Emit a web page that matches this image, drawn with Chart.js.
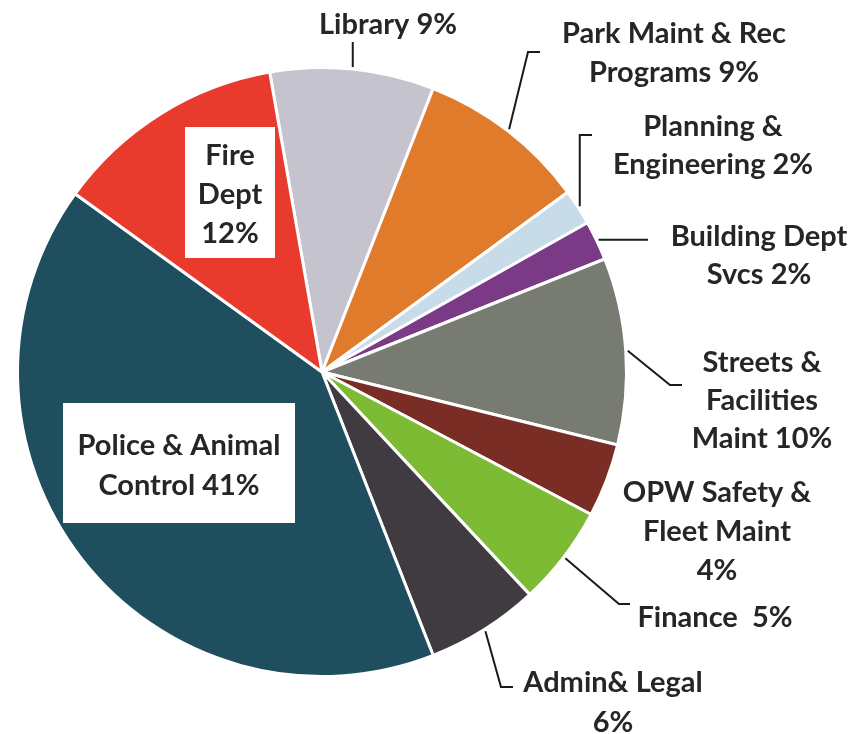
<!DOCTYPE html>
<html>
<head>
<meta charset="utf-8">
<script src="https://cdn.jsdelivr.net/npm/chart.js@4/dist/chart.umd.min.js"></script>
<style>
  html, body { margin: 0; padding: 0; background: #ffffff; }
  #wrap { width: 866px; height: 734px; }
</style>
</head>
<body>
<div id="wrap"><canvas id="c" width="866" height="734"></canvas></div>
<script>
// ---- data ----
const categories = [
  'Library', 'Park Maint & Rec Programs', 'Planning & Engineering', 'Building Dept Svcs',
  'Streets & Facilities Maint', 'OPW Safety & Fleet Maint', 'Finance', 'Admin& Legal',
  'Police & Animal Control', 'Fire Dept'
];
const shares = [8.7, 9.0, 1.9, 2.1, 9.9, 3.9, 5.3, 6.0, 40.9, 12.3];
const labelLines = [
  ['Library 9%'],
  ['Park Maint & Rec', 'Programs 9%'],
  ['Planning &', 'Engineering 2%'],
  ['Building Dept', 'Svcs 2%'],
  ['Streets &', 'Facilities', 'Maint 10%'],
  ['OPW Safety &', 'Fleet Maint', '4%'],
  ['Finance  5%'],
  ['Admin& Legal', '6%'],
  ['Police & Animal', 'Control 41%'],
  ['Fire', 'Dept', '12%']
];

// ---- styling / layout ----
const colors = ['#c5c3cd', '#e07b2c', '#c8dbe8', '#7a3a86', '#777b71',
                '#7a2d25', '#7dbb35', '#403a41', '#1f4e5e', '#e93a2e'];
const FONT = 'bold 29px Lato, "Open Sans", sans-serif';
const TEXT_COLOR = '#262626';
// cx: text centre x, y: cap-centre of first line, lh: line height,
// leader: points after the slice edge point, box: white box behind text
const labelLayout = [
  { cx: 388, y: 24, lh: 38, leader: [[null, 42]] },
  { cx: 674, y: 33, lh: 39, leader: [[528, 52], [540, 52]] },
  { cx: 713, y: 126, lh: 38, leader: [[null, 135], [592, 135]] },
  { cx: 759, y: 236, lh: 38, leader: [[648, null]] },
  { cx: 762, y: 362, lh: 38, leader: [[670, 385], [682, 385]] },
  { cx: 717, y: 492, lh: 39, leader: null },
  { cx: 715, y: 617, lh: 38, leader: [[619, 604], [630, 604]] },
  { cx: 613, y: 682, lh: 40, leader: [[501, 687], [513, 687]] },
  { cx: 179, y: 445, lh: 40, leader: null, box: [63, 403, 232, 120] },
  { cx: 230, y: 155, lh: 39, leader: null, box: [185, 127, 90, 131] }
];

const labelPlugin = {
  id: 'sliceLabels',
  afterDatasetsDraw(chart) {
    const ctx = chart.ctx;
    const meta = chart.getDatasetMeta(0);
    ctx.save();
    meta.data.forEach((arc, i) => {
      const L = labelLayout[i];
      const p = arc.getProps(['x', 'y', 'startAngle', 'endAngle', 'outerRadius'], true);
      const mid = (p.startAngle + p.endAngle) / 2;
      const r = p.outerRadius + 2;
      if (L.leader) {
        const sx = p.x + Math.cos(mid) * r;
        const sy = p.y + Math.sin(mid) * r;
        ctx.beginPath();
        ctx.strokeStyle = '#1a1a1a';
        ctx.lineWidth = 2;
        ctx.lineJoin = 'miter';
        ctx.moveTo(sx, sy);
        let px = sx, py = sy;
        L.leader.forEach(pt => {
          px = pt[0] === null ? px : pt[0];
          py = pt[1] === null ? py : pt[1];
          ctx.lineTo(px, py);
        });
        ctx.stroke();
      }
      if (L.box) {
        ctx.fillStyle = '#ffffff';
        ctx.fillRect(L.box[0], L.box[1], L.box[2], L.box[3]);
      }
      ctx.font = FONT;
      ctx.fillStyle = TEXT_COLOR;
      ctx.textAlign = 'center';
      ctx.textBaseline = 'alphabetic';
      labelLines[i].forEach((line, k) => {
        ctx.fillText(line, L.cx, L.y + k * L.lh + 10);
      });
    });
    ctx.restore();
  }
};

new Chart(document.getElementById('c'), {
  type: 'pie',
  data: {
    labels: categories,
    datasets: [{
      data: shares,
      backgroundColor: colors,
      borderColor: '#ffffff',
      borderWidth: 3,
      hoverOffset: 0,
      offset: 0
    }]
  },
  options: {
    responsive: false,
    animation: false,
    rotation: -9.9,
    layout: { padding: { left: 15, right: 237, top: 66, bottom: 56 } },
    plugins: {
      legend: { display: false },
      tooltip: { enabled: false }
    },
    events: []
  },
  plugins: [labelPlugin]
});
</script>
</body>
</html>
